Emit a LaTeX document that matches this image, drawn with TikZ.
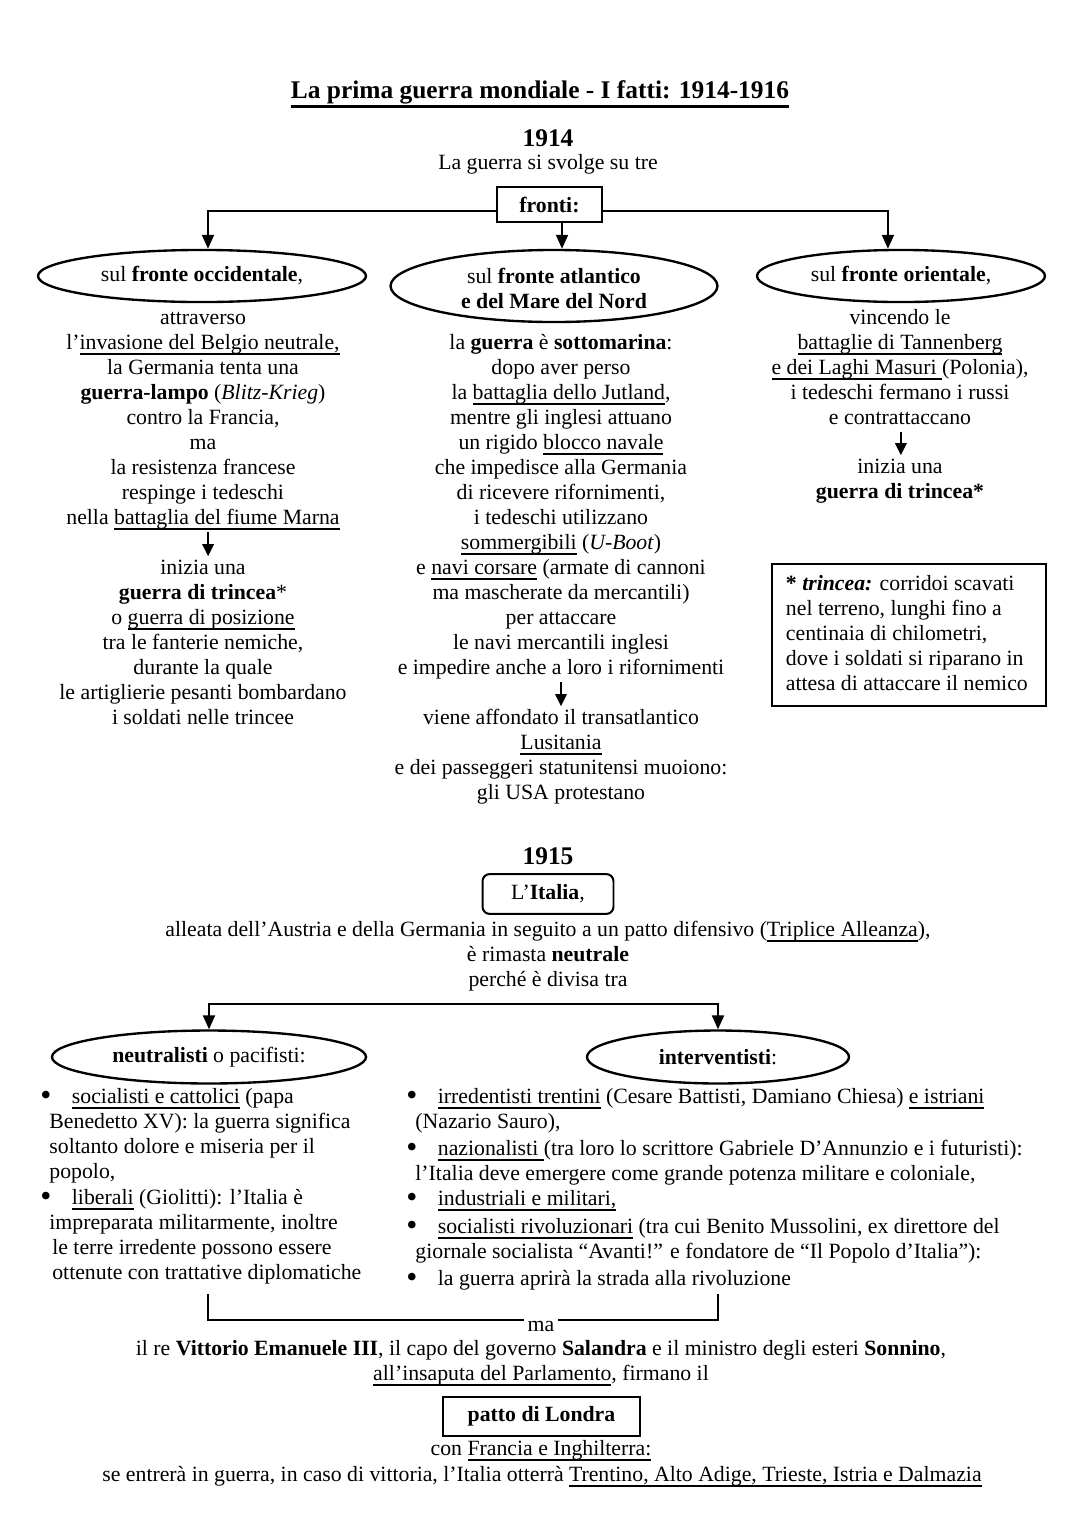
\documentclass[tikz,border=0pt]{standalone}
\usepackage{fontspec}
\setmainfont{Liberation Serif}
\usetikzlibrary{shapes.geometric,arrows.meta}
\newcommand\fs{\fontsize{12}{13.78}\selectfont}
\newcommand\ul[1]{\setbox0\hbox{#1}\rlap{\rule[-3.2pt]{\wd0}{0.8pt}}\box0\relax}
\newcommand\ult[1]{\setbox0\hbox{#1}\rlap{\rule[-5pt]{\wd0}{1.4pt}}\box0\relax}
\newcommand\ctab[1]{\begin{tabular}[t]{@{}c@{}}#1\end{tabular}}
\newcommand\ltab[1]{\begin{tabular}[t]{@{}l@{}}#1\end{tabular}}
\newcommand\bul{\makebox[17.4pt][l]{\raisebox{-1.3pt}{\scalebox{1.45}{\textbullet}}}}
\newcommand\ind{\hspace*{5pt}}
\tikzset{
  basetxt/.style={inner sep=0pt, font=\fs},
  t/.style={basetxt, anchor=base},
  tl/.style={basetxt, anchor=base west},
  ell/.style={ellipse, draw, line width=1.3pt, inner sep=0pt, font=\fs},
  boxn/.style={draw, line width=1.1pt, inner sep=0pt, font=\fs\bfseries},
  conn/.style={line width=1.1pt},
  arr/.style={conn, -{Triangle[width=6.6pt,length=7.7pt]}},
  sarr/.style={line width=0.8pt, -{Triangle[width=6.4pt,length=6.6pt]}}
}
\begin{document}
\begin{tikzpicture}[x=0.55119pt, y=-0.55119pt]
\useasboundingbox (0,0) rectangle (1080,1527);
% ---------- title and 1914 ----------
\node (title) [t, font=\fontsize{14}{16}\selectfont\bfseries] at (540,98.5) {\ult{La prima guerra mondiale - I fatti: 1914-1916}};
\node (yr14) [t, font=\fontsize{14}{16}\selectfont\bfseries] at (548,146) {1914};
\node (svolge) [t] at (548,169) {La guerra si svolge su tre};
\node (fronti) [boxn, minimum width=57.9pt, minimum height=19.3pt] at (549.5,204.5) {fronti:};
% ellipses
\node (occ) [ell, minimum width=180.8pt, minimum height=28.7pt] at (202,276) {sul \textbf{fronte occidentale},};
\node (atl) [ell, minimum width=180.2pt, minimum height=39.7pt] at (554,286) {\raisebox{0pt}[0pt][3.3pt]{\ctab{sul \textbf{fronte atlantico}\\\textbf{e del Mare del Nord}}}};
\node (ori) [ell, minimum width=158.7pt, minimum height=28.7pt] at (901,276) {sul \textbf{fronte orientale},};
\draw[arr] ([yshift=-3.6pt]fronti.west) -| ([xshift=3.3pt]occ.north);
\draw[arr] ([yshift=-3.6pt]fronti.east) -| ([xshift=-7.2pt]ori.north);
\draw[arr] ([xshift=6.9pt]fronti.south) -- ([xshift=6.9pt]fronti.south |- atl.north);
% left column
\node (occ1) [t] at (203,324) {\ctab{attraverso\\
l’\ul{invasione del Belgio neutrale,}\\
la Germania tenta una\\
\textbf{guerra-lampo} (\textit{Blitz-Krieg})\\
contro la Francia,\\
ma\\
la resistenza francese\\
respinge i tedeschi\\
nella \ul{battaglia del fiume Marna}}};
\node (occ2) [t] at (203,574) {\ctab{inizia una\\
\textbf{guerra di trincea}*\\
o \ul{guerra di posizione}\\
tra le fanterie nemiche,\\
durante la quale\\
le artiglierie pesanti bombardano\\
i soldati nelle trincee}};
\draw[sarr] ([xshift=2.8pt]occ1.south) -- ([xshift=2.8pt]occ2.north);
% middle column
\node (atl1) [t] at (561,349) {\ctab{la \textbf{guerra} è \textbf{sottomarina}:\\
dopo aver perso\\
la \ul{battaglia dello Jutland},\\
mentre gli inglesi attuano\\
un rigido \ul{blocco navale}\\
che impedisce alla Germania\\
di ricevere rifornimenti,\\
i tedeschi utilizzano\\
\ul{sommergibili} (\textit{U-Boot})\\
e \ul{navi corsare} (armate di cannoni\\
ma mascherate da mercantili)\\
per attaccare\\
le navi mercantili inglesi\\
e impedire anche a loro i rifornimenti}};
\node (atl2) [t] at (561,724) {\ctab{viene affondato il transatlantico\\
\ul{Lusitania}\\
e dei passeggeri statunitensi muoiono:\\
gli USA protestano}};
\draw[sarr] (atl1.south) -- (atl2.north);
% right column
\node (ori1) [t] at (900,324) {\ctab{vincendo le\\
\ul{battaglie di Tannenberg}\\
\ul{e dei Laghi Masuri }(Polonia),\\
i tedeschi fermano i russi\\
e contrattaccano}};
\node (ori2) [t] at (900,473) {\ctab{inizia una\\
\textbf{guerra di trincea*}}};
\draw[sarr] ([xshift=0.5pt]ori1.south) -- ([xshift=0.5pt]ori2.north);
% note box
\node (nota) [draw, line width=1.1pt, anchor=north west, minimum height=78.3pt, text width=135.6pt, inner xsep=7.7pt, inner ysep=0pt, font=\fs, align=left] at (771,563) {\spaceskip=0pt\xspaceskip=0pt\ltab{\textbf{* \textit{trincea:}} corridoi scavati\\
nel terreno, lunghi fino a\\
centinaia di chilometri,\\
dove i soldati si riparano in\\
attesa di attaccare il nemico}};
% ---------- 1915 ----------
\node (yr15) [t, font=\fontsize{14}{16}\selectfont\bfseries] at (548,864) {1915};
\node (italia) [draw, rounded corners=4pt, line width=1.1pt, inner sep=0pt, font=\fs, minimum width=72.2pt, minimum height=22pt] at (548,894) {L’\textbf{Italia},};
\node (alleata) [t] at (548,936) {alleata dell’Austria e della Germania in seguito a un patto difensivo (\ul{Triplice Alleanza}),};
\node (rimasta) [t] at (548,961) {è rimasta \textbf{neutrale}};
\node (perche) [t] at (548,986) {perché è divisa tra};
\coordinate (split) at (463,1004);
\node (neu) [ell, minimum width=173.1pt, minimum height=29.2pt] at (209,1057) {\textbf{neutralisti} o pacifisti:};
\node (int) [ell, minimum width=144.4pt, minimum height=29.2pt] at (718,1057) {\textbf{interventisti}:};
\draw[arr] (split) -| (neu.north);
\draw[arr] (split) -| (int.north);
% neutralisti bullets
\node (neu1) [tl] at (40,1103) {\ltab{\bul\ul{socialisti e cattolici} (papa\\
\ind Benedetto XV): la guerra significa\\
\ind soltanto dolore e miseria per il\\
\ind popolo,}};
\node (neu2) [tl] at (40,1204) {\ltab{\bul\ul{liberali} (Giolitti): l’Italia è\\
\ind impreparata militarmente, inoltre\\
\ind\hspace{1.6pt}le terre irredente possono essere\\
\ind\hspace{1.6pt}ottenute con trattative diplomatiche}};
% interventisti bullets
\node (int1) [tl] at (406,1103) {\ltab{\bul\ul{irredentisti trentini} (Cesare Battisti, Damiano Chiesa) \ul{e istriani}\\
\ind(Nazario Sauro),}};
\node (int2) [tl] at (406,1155) {\ltab{\bul\ul{nazionalisti }(tra loro lo scrittore Gabriele D’Annunzio e i futuristi):\\
\ind l’Italia deve emergere come grande potenza militare e coloniale,}};
\node (int3) [tl] at (406,1205) {\bul\ul{industriali e militari,}};
\node (int4) [tl] at (406,1233) {\ltab{\bul\ul{socialisti rivoluzionari} (tra cui Benito Mussolini, ex direttore del\\
\ind giornale socialista “Avanti!” e fondatore de “Il Popolo d’Italia”):}};
\node (int5) [tl] at (406,1285) {\bul la guerra aprirà la strada alla rivoluzione};
% bracket and ma
\coordinate (bl) at (208,1294);
\coordinate (br) at (718,1294);
\node (ma) [t, inner xsep=2pt] at (541,1331) {ma};
\draw[conn] (bl) |- (ma.north west);
\draw[conn] (br) |- (ma.north east);
\node (re) [t] at (541,1355) {il re \textbf{Vittorio Emanuele III}, il capo del governo \textbf{Salandra} e il ministro degli esteri \textbf{Sonnino},};
\node (insap) [t] at (541,1380) {\ul{all’insaputa del Parlamento}, firmano il};
\node (patto) [boxn, minimum width=108.6pt, minimum height=21.5pt] at (541.5,1416.5) {patto di Londra};
\node (con) [t] at (541,1455) {con \ul{Francia e Inghilterra:}};
\node (se) [t] at (542,1481) {se entrerà in guerra, in caso di vittoria, l’Italia otterrà \ul{Trentino, Alto Adige, Trieste, Istria e Dalmazia}};
\end{tikzpicture}
\end{document}
